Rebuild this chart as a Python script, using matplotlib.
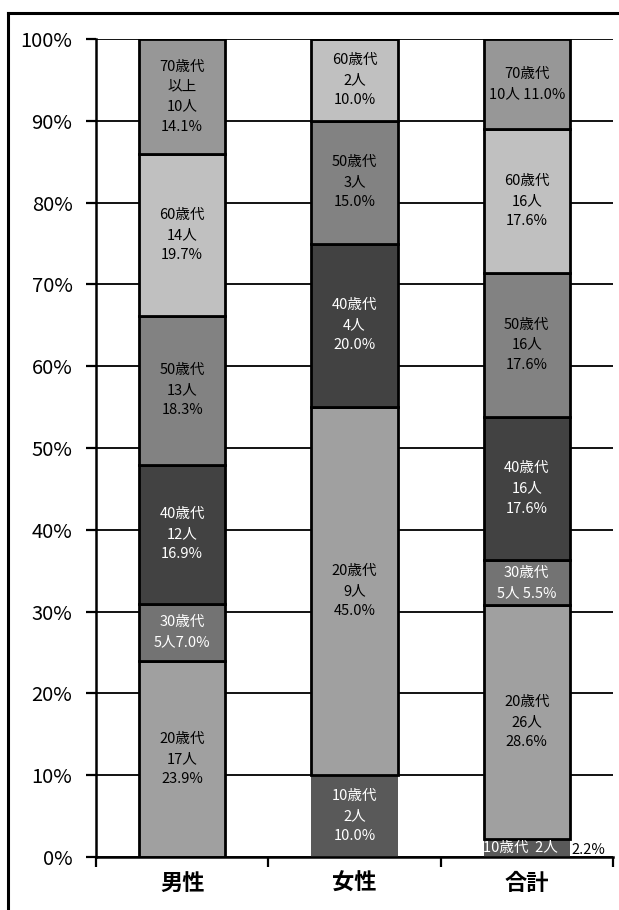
import matplotlib
matplotlib.use('Agg')
import matplotlib.pyplot as plt
import numpy as np
from matplotlib.lines import Line2D

plt.rcParams['font.family'] = ['Noto Sans CJK JP', 'DejaVu Sans']

categories = ['男性', '女性', '合計']
age_groups = ['10歳代', '20歳代', '30歳代', '40歳代', '50歳代', '60歳代', '70歳代']

# counts per age group (bottom -> top)
male = [0, 17, 5, 12, 13, 14, 10]
female = [2, 9, 0, 4, 3, 2, 0]
total = [2, 26, 5, 16, 16, 16, 10]

male_labels = ['', '20歳代\n17人\n23.9%', '30歳代\n5人7.0%', '40歳代\n12人\n16.9%',
               '50歳代\n13人\n18.3%', '60歳代\n14人\n19.7%', '70歳代\n以上\n10人\n14.1%']
female_labels = ['10歳代\n2人\n10.0%', '20歳代\n9人\n45.0%', '', '40歳代\n4人\n20.0%',
                 '50歳代\n3人\n15.0%', '60歳代\n2人\n10.0%', '']
total_labels = ['10歳代  2人', '20歳代\n26人\n28.6%', '30歳代\n5人 5.5%', '40歳代\n16人\n17.6%',
                '50歳代\n16人\n17.6%', '60歳代\n16人\n17.6%', '70歳代\n10人 11.0%']
total_small_pct = '2.2%'

colors = ['#595959', '#a0a0a0', '#737373', '#424242', '#828282', '#c0c0c0', '#979797']
text_colors = ['white', 'black', 'white', 'white', 'black', 'black', 'black']

counts = np.array([male, female, total], dtype=float)
pct = counts / counts.sum(axis=1, keepdims=True) * 100
labels = [male_labels, female_labels, total_labels]

fig = plt.figure(figsize=(6.19, 9.10), dpi=100)
ax = fig.add_axes([96 / 619, 1 - 857 / 910, (613 - 96) / 619, (857 - 39) / 910])

x = np.arange(len(categories))
bottom = np.zeros(len(categories))
for i, age in enumerate(age_groups):
    h = pct[:, i]
    ec = 'none' if i == 0 else 'black'
    ax.bar(x, h, width=0.5, bottom=bottom, color=colors[i], edgecolor=ec,
           linewidth=2.0, zorder=3)
    for j in range(len(categories)):
        lab = labels[j][i]
        if lab and h[j] > 0:
            xx = x[j] - 0.035 if (j == 2 and i == 0) else x[j]
            ax.text(xx, bottom[j] + h[j] / 2, lab, ha='center', va='center',
                    multialignment='center', fontsize=10.5, color=text_colors[i],
                    linespacing=1.55, zorder=5)
    bottom += h

# outside percentage for the small 10歳代 segment in 合計
ax.text(x[2] + 0.26, pct[2, 0] / 2 - 0.3, total_small_pct, ha='left', va='center',
        fontsize=10.5, color='black', zorder=5)

ax.set_xlim(-0.5, 2.5)
ax.set_ylim(0, 100)
ax.set_yticks(np.arange(0, 101, 10))
ax.set_yticklabels([f'{v}%' for v in range(0, 101, 10)], fontsize=14.5)
ax.yaxis.grid(True, color='black', linewidth=1.3, zorder=0)
ax.set_axisbelow(True)

ax.set_xticks([-0.5, 0.5, 1.5, 2.5])
ax.set_xticklabels([])
ax.set_xticks(x, minor=True)
ax.set_xticklabels(categories, minor=True, fontsize=16, fontweight='bold')
ax.tick_params(axis='x', which='minor', length=0, pad=11)
ax.tick_params(axis='x', which='major', length=7, width=1.6, direction='out')
ax.tick_params(axis='y', length=7, width=1.6, direction='out', pad=10)

for s in ['top', 'right']:
    ax.spines[s].set_visible(False)
ax.spines['left'].set_linewidth(1.8)
ax.spines['bottom'].set_linewidth(1.8)
ax.spines['left'].set_zorder(4)
ax.spines['bottom'].set_zorder(4)

# outer frame (top and left edges of the chart area)
fig.add_artist(Line2D([8 / 619, 1.0], [1 - 13 / 910, 1 - 13 / 910], color='black', linewidth=2.2))
fig.add_artist(Line2D([8 / 619, 8 / 619], [0, 1 - 13 / 910], color='black', linewidth=2.2))

fig.savefig('out.png', dpi=100)
